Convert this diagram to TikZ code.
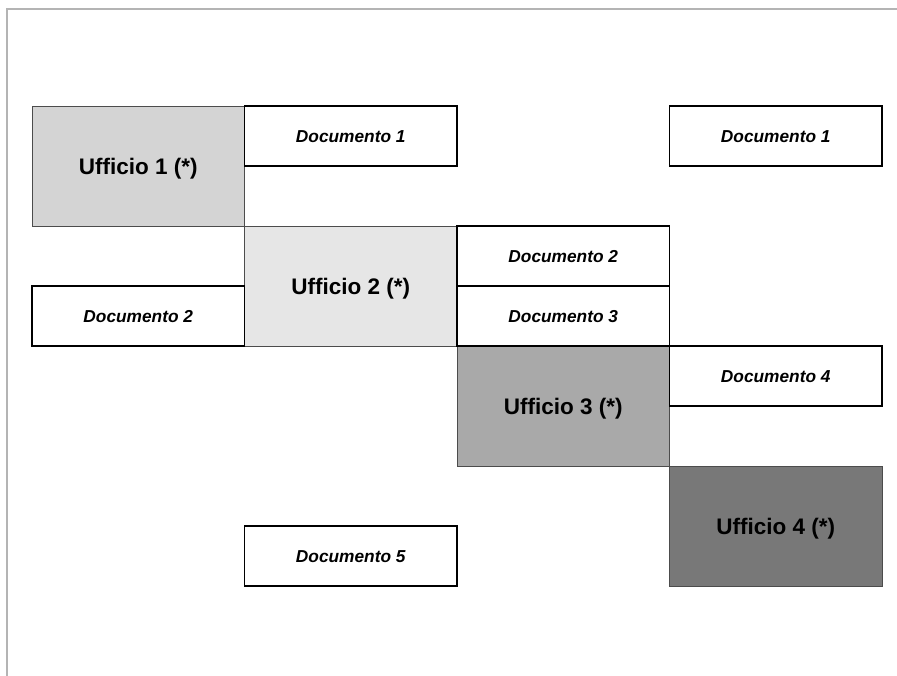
\documentclass[tikz,border=0pt]{standalone}
\usepackage{fontspec}
\setmainfont{Liberation Sans}
\usepackage{tikz}

\definecolor{uffA}{HTML}{D4D4D4}
\definecolor{uffB}{HTML}{E6E6E6}
\definecolor{uffC}{HTML}{A9A9A9}
\definecolor{uffD}{HTML}{787878}
\definecolor{frame}{HTML}{B4B4B4}

\begin{document}
\begin{tikzpicture}[x=0.025cm,y=-0.025cm,
    ufficio/.style={draw=black!70,line width=0.6pt,inner sep=0pt,outer sep=0pt,
        text height=11.5pt,text depth=0pt,
        minimum width=5.3125cm,minimum height=3cm,font=\fontsize{16}{18}\selectfont\bfseries},
    documento/.style={draw=black,fill=white,line width=1.3pt,inner sep=0pt,outer sep=0pt,
        text height=8.8pt,text depth=0pt,
        minimum width=5.3125cm,minimum height=1.5cm,font=\fontsize{12.3}{14}\selectfont\bfseries\itshape}]
\useasboundingbox (0,0) rectangle (897,676);
\draw[frame,line width=1.4pt] (7,676) -- (7,9) -- (897,9);

\begin{scope}[every node/.style={ufficio}]
    \node[fill=uffA] (u1) at (138.25,166) {Ufficio 1 (*)};
    \node[fill=uffB] (u2) at (350.75,286) {Ufficio 2 (*)};
    \node[fill=uffC] (u3) at (563.25,406) {Ufficio 3 (*)};
    \node[fill=uffD] (u4) at (775.75,526) {Ufficio 4 (*)};
\end{scope}

\begin{scope}[every node/.style={documento}]
    \node (d1a) at (350.75,136) {Documento 1};
    \node (d1b) at (775.75,136) {Documento 1};
    \node (d2a) at (138.25,316) {Documento 2};
    \node (d2b) at (563.25,256) {Documento 2};
    \node (d3)  at (563.25,316) {Documento 3};
    \node (d4)  at (775.75,376) {Documento 4};
    \node (d5)  at (350.75,556) {Documento 5};
\end{scope}
\end{tikzpicture}
\end{document}
